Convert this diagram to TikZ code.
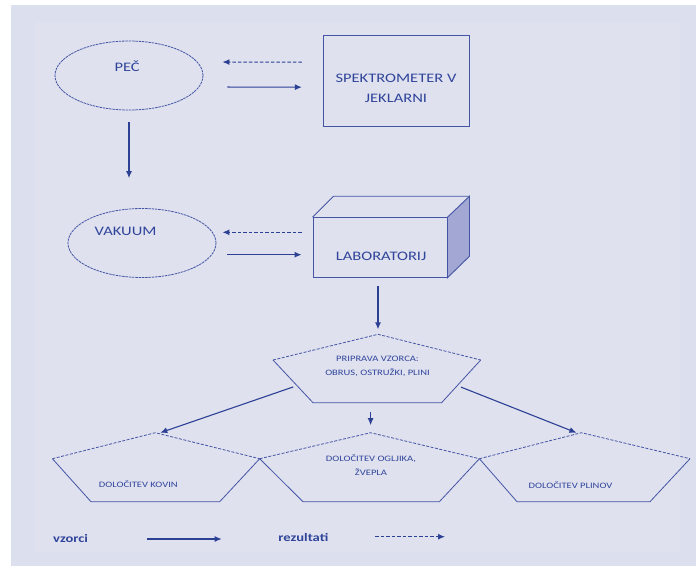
\documentclass[tikz,border=0pt]{standalone}
\usepackage{fontspec}
\setmainfont{Carlito}[FakeStretch=1.27]
\usetikzlibrary{shapes.geometric, arrows.meta, calc}
\definecolor{pozadje}{HTML}{DCDFEE}
\definecolor{notranje}{HTML}{DFE1EF}
\definecolor{crta}{HTML}{2C4194}
\definecolor{obroba}{HTML}{4455A4}
\definecolor{besedilo}{HTML}{30459A}
\definecolor{stranica}{HTML}{A3A7D3}
\begin{document}
\begin{tikzpicture}[x = 1pt, y = -1pt,
	oznaka/.style = { text = besedilo, font = \fontsize{13}{20}\selectfont, inner sep = 0pt, align = center },
	mala/.style = { oznaka, font = \fontsize{8.3}{14}\selectfont },
	legenda/.style = { oznaka, font = \fontsize{11.5}{14}\selectfont\bfseries },
	elipsa/.style = { draw = obroba, ellipse, line width = 0.8pt, dash pattern = on 2.5pt off 0.8pt, minimum width = 148pt, minimum height = 69pt, inner sep = 0pt },
	skatla/.style = { draw = obroba, line width = 0.9pt, inner sep = 0pt },
	vzorec/.style = { draw = crta, line width = 1.1pt, -{Latex[length = 7pt, width = 6pt]} },
	rezultat/.style = { vzorec, dash pattern = on 3.5pt off 2pt },
	zgoraj/.style = { draw = obroba, line width = 0.8pt, dash pattern = on 3pt off 1.5pt },
	spodaj/.style = { draw = obroba, line width = 0.8pt }
]
	\useasboundingbox (0,0) rectangle (696,566);
	\fill[white] (0,0) rectangle (696,566);
	\fill[pozadje] (11,5) rectangle (696,566);
	\fill[notranje] (35,22) rectangle (680,552);

	% zgornji del
	\node[elipsa] (pec) at (129,75.5) {};
	\node[oznaka] (pectxt) at (129,66) { PEČ };
	\node[skatla, minimum width = 146pt, minimum height = 91pt] (spek) at (396,80.5) {};
	\node[oznaka] (spektxt) at (396,88) { SPEKTROMETER V\\JEKLARNI };
	\node[elipsa] (vakuum) at (142,243) {};
	\node[oznaka] (vakuumtxt) at (127.5,231) { VAKUUM };
	\node[skatla, minimum width = 134pt, minimum height = 59.6pt] (lab) at (380,247.5) {};
	\filldraw[skatla, fill = stranica] (lab.north east) -- ++(22,-21) -- ++(0,60) -- (lab.south east) -- cycle;
	\draw[skatla] (lab.north west) -- ++(21,-21) -- ++(136,0);
	\node[oznaka] (labtxt) at (383,256) { LABORATORIJ };

	\draw[rezultat, shorten <= 20.7pt, shorten >= 19pt] ([yshift = 18.3pt]spek.west) -- ([yshift = 13.5pt]pec.east);
	\draw[vzorec, shorten <= 24pt, shorten >= 20.7pt] ([yshift = -11.5pt]pec.east) -- ([yshift = -6.7pt]spek.west);
	\draw[rezultat, shorten <= 11pt, shorten >= 6pt] ([yshift = 15.2pt]lab.west) -- ([yshift = 10.7pt]vakuum.east);
	\draw[vzorec, shorten <= 11pt, shorten >= 11pt] ([yshift = -11.7pt]vakuum.east) -- ([yshift = -7.2pt]lab.west);
	\draw[vzorec, shorten <= 12pt, shorten >= 30pt] (pec.south) -- (pec.south |- vakuum.north);

	% peterokotniki
	\coordinate (pr-t) at (378,334.3);
	\coordinate (pr-l) at (273,360);
	\coordinate (pr-r) at (480.7,360);
	\coordinate (pr-bl) at (313,402.7);
	\coordinate (pr-br) at (441.6,402.7);
	\coordinate (kov-t) at (155.3,432.7);
	\coordinate (kov-l) at (52.4,458.7);
	\coordinate (kov-r) at (259.7,458.7);
	\coordinate (kov-bl) at (91,501.7);
	\coordinate (kov-br) at (219.7,501.7);
	\coordinate (ogl-t) at (370.6,432.7);
	\coordinate (ogl-l) at (259.7,458.7);
	\coordinate (ogl-r) at (479.4,458.7);
	\coordinate (ogl-bl) at (303,501.7);
	\coordinate (ogl-br) at (439.4,501.7);
	\coordinate (pli-t) at (581.4,432.7);
	\coordinate (pli-l) at (479.4,458.7);
	\coordinate (pli-r) at (690,458.7);
	\coordinate (pli-bl) at (517,501.7);
	\coordinate (pli-br) at (650,501.7);
	\foreach \p in {pr, kov, ogl, pli} {
		\draw[zgoraj] (\p-l) -- (\p-t) -- (\p-r);
		\draw[spodaj] (\p-l) -- (\p-bl) -- (\p-br) -- (\p-r);
	}
	\node[mala] (prtxt) at (377.5,366.5) { PRIPRAVA VZORCA:\\OBRUS, OSTRUŽKI, PLINI };
	\node[mala] (kovtxt) at (139.5,484.5) { DOLOČITEV KOVIN };
	\node[mala] (ogltxt) at (371,465) { DOLOČITEV OGLJIKA,\\ŽVEPLA };
	\node[mala] (plitxt) at (571.7,485) { DOLOČITEV PLINOV };

	\draw[vzorec, shorten <= 8pt, shorten >= 5pt] ([xshift = -2pt]lab.south) -- (pr-t);
	\draw[vzorec, shorten <= 4pt] ($(pr-l)!0.6!(pr-bl)$) -- ([xshift = 5pt]kov-t);
	\draw[vzorec, shorten <= 4pt] ($(pr-r)!0.6!(pr-br)$) -- ([xshift = -5pt]pli-t);
	\draw[vzorec, shorten <= 9pt, shorten >= 7.5pt] (ogl-t |- pr-bl) -- (ogl-t);

	% legenda
	\node[legenda] (vzorci) at (72.3,538) { vzorci };
	\node[legenda] (rezultati) at (305,537) { rezultati };
	\coordinate (vz-a) at (147.3,539);
	\coordinate (vz-b) at (221.7,539);
	\coordinate (rz-a) at (375,536.7);
	\coordinate (rz-b) at (445,536.7);
	\draw[vzorec] (vz-a) -- (vz-b);
	\draw[rezultat] (rz-a) -- (rz-b);
\end{tikzpicture}
\end{document}
